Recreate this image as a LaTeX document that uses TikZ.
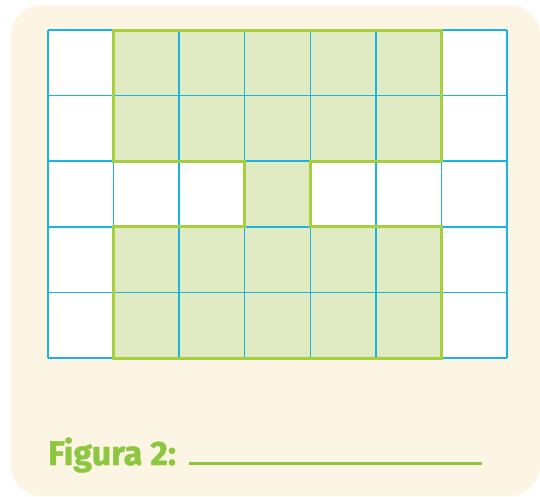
\documentclass[tikz,border=0pt]{standalone}
\usepackage{fontspec}
\setsansfont{Fira Sans}
\newfontfamily\figfont{Fira Sans}[BoldFeatures={FakeBold=1.2}]
\definecolor{paper}{HTML}{FDF5E4}
\definecolor{leaf}{HTML}{E1EBC3}
\definecolor{leafline}{HTML}{A5CF3C}
\definecolor{leaftext}{HTML}{8DC63F}
\definecolor{gridblue}{HTML}{1AB4E2}
\tikzset{
  fgpaper/.style={fill=paper, rounded corners=30pt},
  fgcell/.style={fill=leaf},
  fggrid/.style={draw=gridblue, line width=1.5pt},
  fgedge/.style={draw=leafline, line width=3pt, line join=miter},
  fglab/.style={font=\figfont\bfseries\fontsize{34}{38}\selectfont,
                text=leaftext, anchor=base west, inner sep=0pt},
  fgrule/.style={draw=leaftext, line width=3pt},
}
\begin{document}
\begin{tikzpicture}[x=1pt,y=-1pt]
  \useasboundingbox (0,0) rectangle (540,496);
  \path[fgpaper] (11,5) rectangle (540,496);

  % grid 7 x 5
  \begin{scope}[shift={(48,30)}, x=65.57pt, y=-65.6pt]
    \path[fgcell] (1,0) -- (6,0) -- (6,2) -- (4,2) -- (4,3) -- (6,3)
      -- (6,5) -- (1,5) -- (1,3) -- (3,3) -- (3,2) -- (1,2) -- cycle;
    \fill[white] (0,0) rectangle (1,5);
    \fill[white] (6,0) rectangle (7,5);
    \fill[white] (1,2) rectangle (3,3);
    \fill[white] (4,2) rectangle (6,3);
    \foreach \c in {0,...,7}
      \draw[fggrid] (\c,0) -- (\c,5);
    \foreach \r in {0,...,5}
      \draw[fggrid] (0,\r) -- (7,\r);
    \draw[fgedge] (1,0) -- (6,0) -- (6,2) -- (4,2) -- (4,3) -- (6,3)
      -- (6,5) -- (1,5) -- (1,3) -- (3,3) -- (3,2) -- (1,2) -- cycle;
  \end{scope}

  \node[fglab] (fig) at (48,465) {Figura 2:};
  \coordinate (blank) at (482,463);
  \draw[fgrule] (189,463) -- (blank);
\end{tikzpicture}
\end{document}
